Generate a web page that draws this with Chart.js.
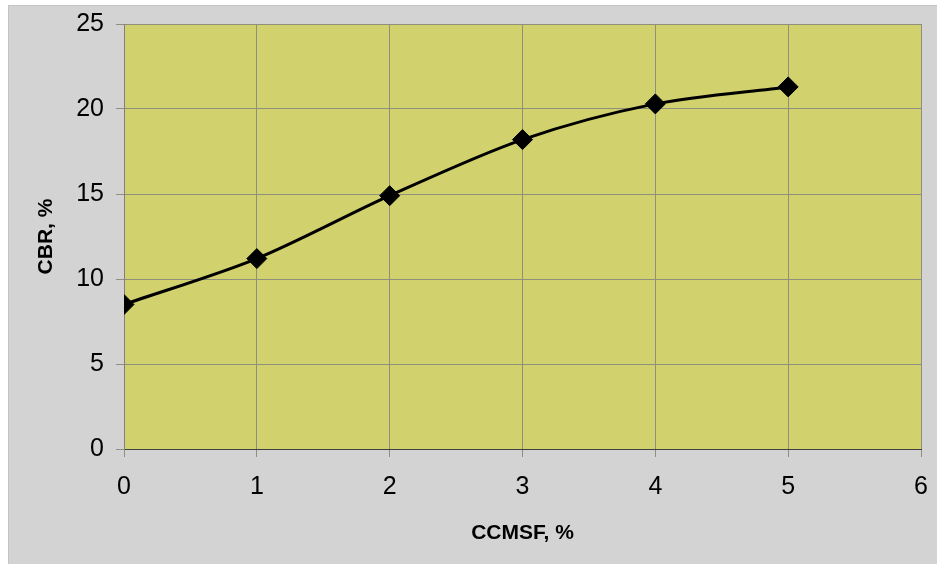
<!DOCTYPE html>
<html>
<head>
<meta charset="utf-8">
<script src="https://cdn.jsdelivr.net/npm/chart.js@4/dist/chart.umd.min.js"></script>
<style>
  html, body { margin: 0; padding: 0; background: #ffffff; }
  #wrap { width: 937px; height: 564px; }
</style>
</head>
<body>
<div id="wrap"><canvas id="c" width="937" height="564"></canvas></div>
<script>
// CCMSF content (%) and measured CBR (%)
const ccmsf = [0, 1, 2, 3, 4, 5];
const cbr = [8.5, 11.2, 14.9, 18.2, 20.3, 21.3];

const xTitle = 'CCMSF, %';
const yTitle = 'CBR, %';

// Gray frame behind the chart and the olive plot area
const backdrop = {
  id: 'backdrop',
  beforeDraw(chart) {
    const ctx = chart.ctx;
    const a = chart.chartArea;
    ctx.save();
    ctx.fillStyle = '#ffffff';
    ctx.fillRect(0, 0, chart.width, chart.height);
    ctx.fillStyle = '#d3d3d3';
    ctx.fillRect(8, 5, chart.width - 8, chart.height - 5);
    ctx.strokeStyle = '#c4c4c4';
    ctx.lineWidth = 1;
    ctx.strokeRect(8.5, 5.5, chart.width - 8, chart.height - 5);
    ctx.fillStyle = '#d1d16d';
    ctx.fillRect(a.left, a.top, a.right - a.left, a.bottom - a.top);
    ctx.restore();
  }
};

new Chart(document.getElementById('c'), {
  type: 'line',
  data: {
    datasets: [{
      data: ccmsf.map((x, i) => ({ x: x, y: cbr[i] })),
      borderColor: '#000000',
      backgroundColor: '#000000',
      borderWidth: 3,
      tension: 0.3,
      pointStyle: 'rectRot',
      pointRadius: 10,
      pointBorderWidth: 1,
      pointBackgroundColor: '#000000',
      pointBorderColor: '#000000',
      fill: false
    }]
  },
  options: {
    responsive: false,
    animation: false,
    layout: { padding: { top: 24, right: 16, left: 0, bottom: 0 } },
    plugins: { legend: { display: false }, tooltip: { enabled: false } },
    scales: {
      x: {
        type: 'linear',
        min: 0, max: 6,
        ticks: { stepSize: 1, color: '#000000', padding: 15,
                 font: { family: 'Liberation Sans', size: 25 } },
        grid: { color: '#8f8f80', lineWidth: 1, tickLength: 8, drawTicks: true },
        border: { color: '#404040', width: 1 },
        title: { display: true, text: xTitle, color: '#000000',
                 font: { family: 'Liberation Sans', size: 21, weight: 'bold' },
                 padding: { top: 0, bottom: 18 } },
        afterFit(s) { s.height = 115; s.paddingLeft = 0; s.paddingRight = 0; }
      },
      y: {
        min: 0, max: 25,
        ticks: { stepSize: 5, color: '#000000', padding: 12,
                 font: { family: 'Liberation Sans', size: 25 } },
        grid: { color: '#8f8f80', lineWidth: 1, tickLength: 8 },
        border: { color: '#808080', width: 1 },
        title: { display: true, text: yTitle, color: '#000000',
                 font: { family: 'Liberation Sans', size: 21, weight: 'bold' },
                 padding: { top: 34, bottom: 0 } },
        afterFit(s) { s.width = 124; s.paddingTop = 0; s.paddingBottom = 0; }
      }
    }
  },
  plugins: [backdrop]
});
</script>
</body>
</html>
